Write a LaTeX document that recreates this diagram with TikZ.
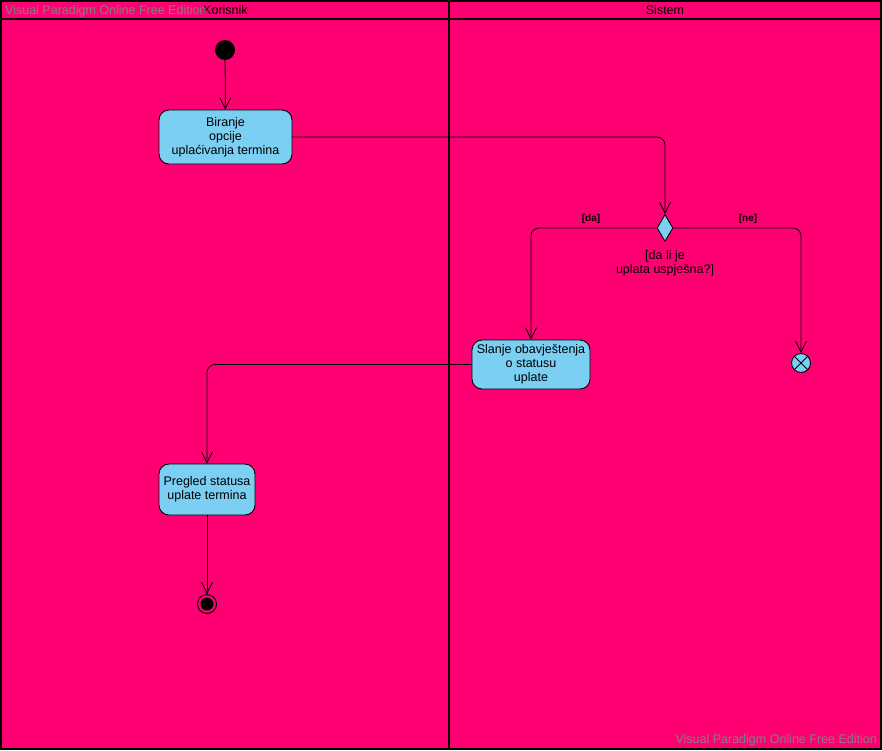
\documentclass[tikz,border=0pt]{standalone}
\usepackage{fontspec}
\setmainfont{Liberation Sans}
\usetikzlibrary{arrows.meta,shapes.geometric}
\definecolor{lanebg}{RGB}{255,0,115}
\definecolor{actfill}{RGB}{122,207,243}
\definecolor{wmark}{RGB}{128,128,128}
\begin{document}
\begin{tikzpicture}[x=1pt,y=-1pt,
  lane/.style={draw=black,line width=1.6pt,fill=lanebg},
  action/.style={draw=black,fill=actfill,rounded corners=10pt,line width=0.9pt,
    align=center,font=\fontsize{12.5}{13.8}\selectfont,inner sep=0pt},
  flow/.style={draw=black,line width=0.8pt,rounded corners=8pt,
    -{Straight Barb[length=11pt,width=11pt,line width=0.8pt]}},
  guard/.style={font=\fontsize{10}{12}\selectfont\bfseries,inner sep=1pt},
  lanetitle/.style={font=\fontsize{12.5}{14}\selectfont,inner sep=0pt},
  watermark/.style={font=\fontsize{12.5}{14}\selectfont,text=wmark,inner sep=0pt}]
\useasboundingbox (0,0) rectangle (882,750);
\fill[lanebg] (0,0) rectangle (882,750);
% swimlanes
\draw[lane] (1,1) rectangle (449,749);
\draw[lane] (449,1) rectangle (881,749);
\draw[black,line width=1.6pt] (1,19) -- (881,19);
\node[lanetitle] (korisnik) at (225.5,10.5) {Korisnik};
\node[lanetitle] (sistem) at (665,10.5) {Sistem};
% initial node
\node[circle,fill=black,minimum size=20pt,inner sep=0pt] (start) at (225,50) {};
% actions
\node[action,minimum width=133pt,minimum height=54pt] (biranje) at (225.5,137)
  {Biranje\\opcije\\uplaćivanja termina};
\node[diamond,draw=black,fill=actfill,line width=0.9pt,minimum width=16pt,
  minimum height=27pt,inner sep=0pt,aspect=0.6] (odluka) at (665,228) {};
\node[action,minimum width=118pt,minimum height=49pt] (slanje) at (531,364.5)
  {Slanje obavještenja\\o statusu\\uplate};
\node[circle,draw=black,fill=actfill,line width=0.9pt,minimum size=19pt,
  inner sep=0pt] (kraj) at (801,363) {};
\draw[black,line width=0.9pt] (kraj.north east) -- (kraj.south west)
  (kraj.north west) -- (kraj.south east);
\node[action,minimum width=96pt,minimum height=51pt] (pregled) at (207,489.5)
  {Pregled statusa\\uplate termina};
% activity final
\node[circle,draw=black,line width=1pt,minimum size=19pt,inner sep=0pt] (final) at (207,604) {};
\node[circle,fill=black,minimum size=13pt,inner sep=0pt] (finalin) at (207,604) {};
% guard texts
\node[align=center,font=\fontsize{12.5}{13.8}\selectfont] (uslov) at (665,263)
  {[da li je\\uplata uspješna?]};
\node[guard] (da) at (591,219) {[da]};
\node[guard] (ne) at (748,219) {[ne]};
% control flows
\draw[flow] (start) -- (biranje);
\draw[flow] (biranje.east) -| (odluka.north);
\draw[flow] (odluka.west) -| (slanje.north);
\draw[flow] (odluka.east) -| (kraj.north);
\draw[flow] (slanje.west) -| (pregled.north);
\draw[flow] (pregled.south) -- (final.north);
% watermarks
\node[watermark,anchor=west] (wm1) at (5,11) {Visual Paradigm Online Free Edition};
\node[watermark,anchor=east] (wm2) at (877,740.5) {Visual Paradigm Online Free Edition};
\end{tikzpicture}
\end{document}
